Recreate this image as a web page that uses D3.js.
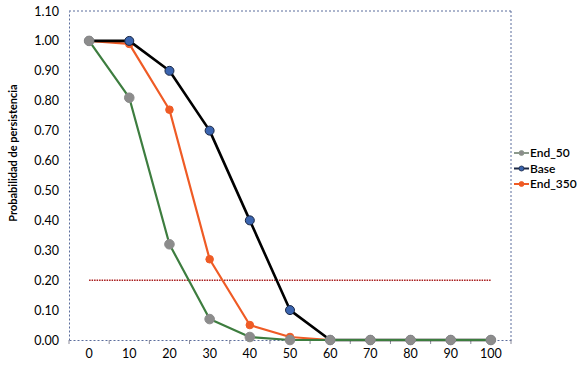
<!DOCTYPE html>
<html><head><meta charset="utf-8">
<script src="https://cdn.jsdelivr.net/npm/d3@7"></script>
<style>body{margin:0;background:#fff}svg{display:block}text{font-family:Lato,"Open Sans",sans-serif}</style>
</head><body>
<svg id="c" width="580" height="369"></svg>
<script>
const categories = [0,10,20,30,40,50,60,70,80,90,100];
const end50 = [1.00,0.81,0.32,0.07,0.01,0,0,0,0,0,0];
const base = [1.00,1.00,0.90,0.70,0.40,0.10,0,0,0,0,0];
const end350 = [1.00,0.99,0.77,0.27,0.05,0.01,0,0,0,0,0];
const threshold = 0.20;
const yTicks = [0,0.1,0.2,0.3,0.4,0.5,0.6,0.7,0.8,0.9,1.0,1.1];
const seriesNames = ["End_50","Base","End_350"];

const svg = d3.select("#c");
const L=69,R=511,T=11,B=340;
const x = d3.scaleBand().domain(categories).range([L,R]);
const y = d3.scaleLinear().domain([0,1.1]).range([B,T]);
const cx = d => x(d)+x.bandwidth()/2;

const borderCol = "#5b6d9c";
svg.append("line").attr("x1",L).attr("x2",R).attr("y1",T).attr("y2",T).attr("stroke",borderCol).attr("stroke-dasharray","2,2").attr("stroke-width",1);
svg.append("line").attr("x1",R).attr("x2",R).attr("y1",T).attr("y2",B).attr("stroke",borderCol).attr("stroke-dasharray","2,2").attr("stroke-width",1);

const ya = svg.append("g").attr("transform",`translate(${L},0)`)
  .call(d3.axisLeft(y).tickValues(yTicks).tickFormat(d3.format(".2f")).tickSize(0).tickPadding(10));
ya.select(".domain").attr("stroke",borderCol).attr("stroke-dasharray","2,2");
ya.selectAll("text").attr("font-size",12.5).attr("fill","#000");

const xa = svg.append("g").attr("transform",`translate(0,${B})`)
  .call(d3.axisBottom(x).tickSize(0).tickPadding(9));
xa.select(".domain").attr("stroke",borderCol).attr("stroke-dasharray","2,2");
xa.selectAll("text").attr("font-size",12.5).attr("fill","#000");
const bounds = categories.map(c=>x(c)).concat([R]);
svg.append("g").selectAll("line").data(bounds).join("line")
  .attr("x1",d=>d).attr("x2",d=>d).attr("y1",B).attr("y2",B+4).attr("stroke","#8a8a9a");

svg.append("line").attr("x1",cx(categories[0])).attr("x2",cx(categories[categories.length-1]))
  .attr("y1",y(threshold)).attr("y2",y(threshold)).attr("stroke","#a81818").attr("stroke-width",1.4).attr("stroke-dasharray","1.5,1");

const line = d3.line().x((d,i)=>cx(categories[i])).y(d=>y(d));
function series(vals, lc, lw, mf, ms, r){
  svg.append("path").datum(vals).attr("d",line).attr("fill","none").attr("stroke",lc).attr("stroke-width",lw).attr("stroke-linejoin","round");
  svg.append("g").selectAll("circle").data(vals).join("circle")
    .attr("cx",(d,i)=>cx(categories[i])).attr("cy",d=>y(d)).attr("r",r)
    .attr("fill",mf).attr("stroke",ms).attr("stroke-width",1);
}
series(end350,"#ef5b25",2.2,"#ef5b25","#ef5b25",3.8);
series(base,"#000",2.6,"#3b65b0","#1a2744",4.5);
series(end50,"#3d7d3f",2.2,"#8c8c8c","#8c8c8c",4.8);

svg.append("text").attr("transform","translate(17,153) rotate(-90)").attr("text-anchor","middle")
  .attr("font-size",11).attr("font-weight","bold").text("Probabilidad de persistencia");

const leg = [{n:seriesNames[0],lc:"#8c9a8c",mc:"#8c8c8c"},{n:seriesNames[1],lc:"#1a2744",mc:"#3b65b0"},{n:seriesNames[2],lc:"#ef5b25",mc:"#ef5b25"}];
const lg = svg.append("g").selectAll("g").data(leg).join("g").attr("transform",(d,i)=>`translate(514,${153+i*15.5})`);
lg.append("line").attr("x1",0).attr("x2",15).attr("stroke",d=>d.lc).attr("stroke-width",2);
lg.append("circle").attr("cx",7.5).attr("r",2.5).attr("fill",d=>d.mc).attr("stroke",d=>d.lc).attr("stroke-width",0.8);
lg.append("text").attr("x",16).attr("dy","0.35em").attr("font-size",12).attr("font-weight","600").text(d=>d.n);
</script>
</body></html>
